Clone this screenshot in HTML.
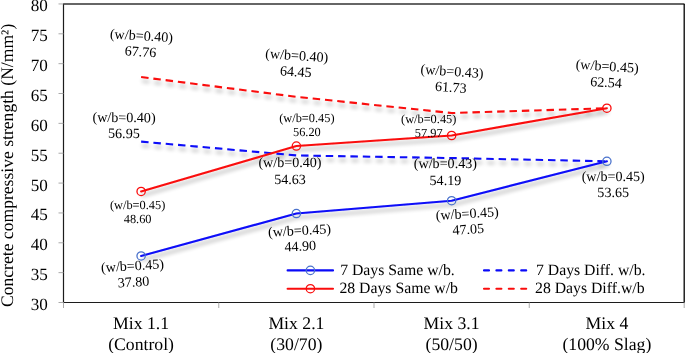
<!DOCTYPE html>
<html><head><meta charset="utf-8"><title>Concrete compressive strength</title>
<style>
html,body{margin:0;padding:0;background:#fff;}
body{width:685px;height:353px;overflow:hidden;}
svg{display:block;will-change:transform;text-rendering:geometricPrecision;font-family:"Liberation Serif","Times New Roman",serif;fill:#000;}
.tick{font-size:17.1px;text-anchor:end;}
.cat{font-size:17.7px;text-anchor:middle;}
.dl{font-size:14.1px;text-anchor:middle;}
.ds{font-size:12.35px;text-anchor:middle;}
.lg{font-size:15.75px;}
</style></head><body>
<svg width="685" height="353" viewBox="0 0 685 353">
<defs>
<filter id="sh" x="-5%" y="-20%" width="110%" height="150%">
<feGaussianBlur in="SourceAlpha" stdDeviation="2.3" result="b"/>
<feOffset in="b" dx="1.2" dy="3.5" result="o"/>
<feComponentTransfer in="o" result="s"><feFuncA type="linear" slope="0.33"/></feComponentTransfer>
<feMerge><feMergeNode in="s"/><feMergeNode in="SourceGraphic"/></feMerge>
</filter>
</defs>
<rect width="685" height="353" fill="#fff"/>

<g stroke="#333" stroke-width="1.5" fill="none">
<path d="M63.0,3.95 H684.5"/>
<path d="M684.2,4.0 V302.5" stroke="#000" stroke-width="1.3"/>
</g>
<g stroke="#1c1c1c" stroke-width="1.2" fill="none">
<path d="M63.5,4.0 V302.5"/>
<path d="M63.5,302.5 H684.5"/>
</g>
<g stroke="#a0a0a0" stroke-width="0.9" fill="none">
<path d="M58.5,302.50 H63.5"/>
<path d="M58.5,272.64 H63.5"/>
<path d="M58.5,242.79 H63.5"/>
<path d="M58.5,212.94 H63.5"/>
<path d="M58.5,183.08 H63.5"/>
<path d="M58.5,153.22 H63.5"/>
<path d="M58.5,123.37 H63.5"/>
<path d="M58.5,93.51 H63.5"/>
<path d="M58.5,63.66 H63.5"/>
<path d="M58.5,33.81 H63.5"/>
<path d="M58.5,3.95 H63.5"/>
<path d="M63.50,302.5 V308.0"/>
<path d="M218.75,302.5 V308.0"/>
<path d="M374.00,302.5 V308.0"/>
<path d="M529.25,302.5 V308.0"/>
<path d="M684.20,302.5 V308.0"/>
</g>
<text class="tick" x="47.9" y="310.0">30</text>
<text class="tick" x="47.9" y="280.1">35</text>
<text class="tick" x="47.9" y="250.3">40</text>
<text class="tick" x="47.9" y="220.4">45</text>
<text class="tick" x="47.9" y="190.6">50</text>
<text class="tick" x="47.9" y="160.7">55</text>
<text class="tick" x="47.9" y="130.9">60</text>
<text class="tick" x="47.9" y="101.0">65</text>
<text class="tick" x="47.9" y="71.2">70</text>
<text class="tick" x="47.9" y="41.3">75</text>
<text class="tick" x="47.9" y="11.4">80</text>
<text transform="translate(13.2,165.4) rotate(-90)" text-anchor="middle" font-size="17.6px">Concrete compressive strength (N/mm²)</text>
<text class="cat" x="141.1" y="329">Mix 1.1</text>
<text class="cat" x="141.1" y="349.5">(Control)</text>
<text class="cat" x="296.4" y="329">Mix 2.1</text>
<text class="cat" x="296.4" y="349.5">(30/70)</text>
<text class="cat" x="451.6" y="329">Mix 3.1</text>
<text class="cat" x="451.6" y="349.5">(50/50)</text>
<text class="cat" x="606.9" y="329">Mix 4</text>
<text class="cat" x="606.9" y="349.5">(100% Slag)</text>
<g fill="none" stroke-width="2.1" stroke-linecap="round" stroke-linejoin="round" filter="url(#sh)">
<path d="M141.12,77.04 L296.38,96.80 L451.62,113.04 L606.88,108.20" stroke="#fa0c0c" stroke-linecap="butt" stroke-dasharray="7.45,4.9"/>
<path d="M141.12,141.58 L296.38,155.43 L451.62,158.06 L606.88,161.29" stroke="#0a0af8" stroke-linecap="butt" stroke-dasharray="7.45,4.9"/>
<path d="M141.12,191.44 L296.38,146.06 L451.62,135.49 L606.88,108.20" stroke="#fa0c0c"/>
<path d="M141.12,255.93 L296.38,213.53 L451.62,200.69 L606.88,161.29" stroke="#0a0af8"/>
</g>
<g fill="none" stroke-width="1.3">
<circle cx="141.12" cy="191.44" r="4.15" stroke="#fa0c0c"/>
<circle cx="296.38" cy="146.06" r="4.15" stroke="#fa0c0c"/>
<circle cx="451.62" cy="135.49" r="4.15" stroke="#fa0c0c"/>
<circle cx="606.88" cy="108.20" r="4.15" stroke="#fa0c0c"/>
<circle cx="141.12" cy="255.93" r="4.15" stroke="#4a72cc"/>
<circle cx="296.38" cy="213.53" r="4.15" stroke="#4a72cc"/>
<circle cx="451.62" cy="200.69" r="4.15" stroke="#4a72cc"/>
<circle cx="606.88" cy="161.29" r="4.15" stroke="#4a72cc"/>
</g>
<g transform="rotate(3.5 141 43.3)"><text class="dl" x="141" y="40.3">(w/b=0.40)</text>
<text class="dl" x="141" y="56.3">67.76</text></g>
<g transform="rotate(3.7 296.3 63.2)"><text class="dl" x="296.3" y="60.1">(w/b=0.40)</text>
<text class="dl" x="296.3" y="76.3">64.45</text></g>
<g transform="rotate(4 451.5 78.8)"><text class="dl" x="451.5" y="75.8">(w/b=0.43)</text>
<text class="dl" x="451.5" y="91.9">61.73</text></g>
<g transform="rotate(3.8 606.7 73.9)"><text class="dl" x="606.7" y="70.8">(w/b=0.45)</text>
<text class="dl" x="606.7" y="87">62.54</text></g>
<g transform="rotate(0.5 124 125.0)"><text class="dl" x="124" y="122">(w/b=0.40)</text>
<text class="dl" x="124" y="138">56.95</text></g>
<g><text class="dl" x="290" y="167.4">(w/b=0.40)</text>
<text class="dl" x="290" y="183.5">54.63</text></g>
<g><text class="dl" x="445.4" y="168.3">(w/b=0.43)</text>
<text class="dl" x="445.4" y="184.6">54.19</text></g>
<g><text class="dl" x="613.2" y="180.5">(w/b=0.45)</text>
<text class="dl" x="613.2" y="196.5">53.65</text></g>
<g><text class="ds" x="306.9" y="122.1">(w/b=0.45)</text>
<text class="ds" x="306.9" y="136">56.20</text></g>
<g><text class="ds" x="428.7" y="122.8">(w/b=0.45)</text>
<text class="ds" x="428.7" y="137.2">57.97</text></g>
<g><text class="ds" x="137.6" y="208.7">(w/b=0.45)</text>
<text class="ds" x="137.6" y="222.8">48.60</text></g>
<g transform="rotate(-3 299.9 237.9)"><text class="dl" x="299.9" y="235">(w/b=0.45)</text>
<text class="dl" x="299.9" y="250.8">44.90</text></g>
<g transform="rotate(-3.5 467.7 221.0)"><text class="dl" x="467.7" y="218.1">(w/b=0.45)</text>
<text class="dl" x="467.7" y="233.9">47.05</text></g>
<g transform="rotate(-3.5 133 273.5)"><text class="dl" x="133" y="270.3">(w/b=0.45)</text>
<text class="dl" x="133" y="286.6">37.80</text></g>
<g fill="none" stroke-width="2.1" stroke-linecap="round">
<path d="M287.6,270.4 H333" stroke="#0a0af8"/>
<path d="M287.6,288.7 H333" stroke="#fa0c0c"/>
<path d="M484,270.4 H527" stroke="#0a0af8" stroke-dasharray="5,7.4"/>
<path d="M484,288.7 H527" stroke="#fa0c0c" stroke-dasharray="5,7.4"/>
</g>
<g fill="none" stroke-width="1.25">
<circle cx="310.4" cy="270.4" r="4.2" stroke="#4a72cc"/>
<circle cx="310.4" cy="288.7" r="4.2" stroke="#fa0c0c"/>
</g>
<text class="lg" x="340.2" y="274.6">7 Days Same w/b.</text>
<text class="lg" x="339.4" y="292.8">28 Days Same w/b</text>
<text class="lg" x="536" y="274.6">7 Days Diff. w/b.</text>
<text class="lg" x="535" y="292.8">28 Days Diff.w/b</text>
</svg></body></html>
